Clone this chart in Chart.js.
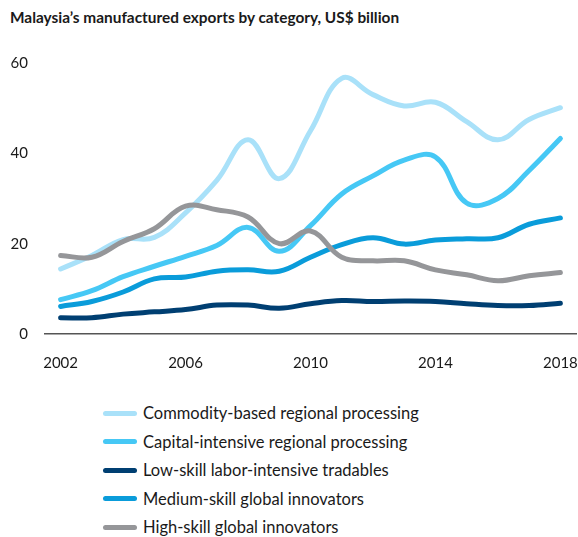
<!DOCTYPE html>
<html>
<head>
<meta charset="utf-8">
<script src="https://cdn.jsdelivr.net/npm/chart.js@4/dist/chart.umd.min.js"></script>
<style>
  html, body { margin: 0; padding: 0; background: #fff; overflow: hidden; }
  #wrap { position: relative; width: 578px; height: 537px; font-family: Lato, 'Open Sans', sans-serif; color: #1a1a1a; }
  #title { position: absolute; left: 10px; top: 8px; font-size: 15.4px; font-weight: 700; white-space: nowrap; }
  #chartBox { position: absolute; left: 0; top: 0; width: 578px; height: 392px; }
  #legend { position: absolute; left: 103px; top: 399px; }
  .leg-item { display: flex; align-items: center; height: 28.5px; font-size: 16.5px; }
  .leg-swatch { width: 34px; height: 5px; border-radius: 3px; margin-right: 6px; }
</style>
</head>
<body>
<div id="wrap">
  <div id="title">Malaysia’s manufactured exports by category, US$ billion</div>
  <div id="chartBox"><canvas id="chart"></canvas></div>
  <div id="legend"></div>
</div>
<script>
/* ── DATA ── */
var years = ['2002', '2003', '2004', '2005', '2006', '2007', '2008', '2009', '2010',
             '2011', '2012', '2013', '2014', '2015', '2016', '2017', '2018'];
var yTicks = [0, 20, 40, 60];

var commodityBased  = [14.4, 17.4, 20.9, 21.4, 26.8, 34.0, 43.0, 34.4, 45.0, 56.6, 53.0, 50.5, 51.3, 47.0, 43.0, 47.5, 50.1];
var capitalIntense  = [7.6, 9.6, 12.7, 15.0, 17.2, 19.6, 23.6, 18.3, 24.0, 31.0, 35.0, 38.5, 39.2, 29.0, 30.0, 36.2, 43.3];
var lowSkill        = [3.6, 3.6, 4.4, 4.9, 5.4, 6.4, 6.4, 5.7, 6.7, 7.4, 7.2, 7.3, 7.2, 6.7, 6.3, 6.3, 6.8];
var mediumSkill     = [6.1, 7.2, 9.3, 12.2, 12.6, 13.9, 14.2, 13.9, 17.0, 19.8, 21.3, 19.9, 20.8, 21.1, 21.3, 24.3, 25.7];
var highSkill       = [17.4, 17.0, 20.5, 23.3, 28.3, 27.5, 25.9, 20.0, 22.8, 17.0, 16.2, 16.2, 14.2, 13.1, 11.8, 12.9, 13.6];

var seriesLabels = [
  'Commodity-based regional processing',
  'Capital-intensive regional processing',
  'Low-skill labor-intensive tradables',
  'Medium-skill global innovators',
  'High-skill global innovators'
];
var seriesValues = [commodityBased, capitalIntense, lowSkill, mediumSkill, highSkill];
var seriesColors = ['#a9e1f9', '#46c8f5', '#003f72', '#0a9cda', '#959699'];
var drawOrder    = [4, 3, 2, 1, 0];   // grey line drawn on top

/* ── CHART ── */
var FONT = 'Lato, "Open Sans", sans-serif';

var datasets = [];
for (var i = 0; i < seriesValues.length; i++) {
  datasets.push({
    label: seriesLabels[i],
    data: seriesValues[i],
    borderColor: seriesColors[i],
    backgroundColor: seriesColors[i],
    borderWidth: 5,
    borderCapStyle: 'round',
    borderJoinStyle: 'round',
    tension: 0.4,
    pointRadius: 0,
    order: drawOrder[i],
    fill: false
  });
}

var chart = new Chart(document.getElementById('chart').getContext('2d'), {
  type: 'line',
  data: { labels: years, datasets: datasets },
  options: {
    responsive: true,
    maintainAspectRatio: false,
    animation: false,
    layout: { padding: { top: 63, left: 0, right: 0, bottom: 0 } },
    plugins: { legend: { display: false }, tooltip: { enabled: false } },
    scales: {
      x: {
        type: 'category',
        offset: true,
        grid: { display: false, drawTicks: false },
        border: { display: true, color: '#555', width: 1.5 },
        ticks: {
          autoSkip: false,
          maxRotation: 0,
          padding: 20,
          color: '#1a1a1a',
          font: { family: FONT, size: 15 },
          callback: function(v, idx) { return idx % 4 === 0 ? years[idx] : ''; }
        },
        afterFit: function(scale) { scale.paddingRight = 2; scale.paddingLeft = 0; }
      },
      y: {
        min: 0, max: 60,
        grid: { display: false, drawTicks: false },
        border: { display: false },
        afterBuildTicks: function(scale) {
          scale.ticks = yTicks.map(function(v) { return { value: v }; });
        },
        afterFit: function(scale) { scale.width = 45; },
        ticks: {
          padding: 17,
          color: '#1a1a1a',
          font: { family: FONT, size: 15 }
        }
      }
    }
  }
});

/* ── LEGEND ── */
var legendHtml = '';
for (var j = 0; j < seriesLabels.length; j++) {
  legendHtml += '<div class="leg-item">' +
                  '<div class="leg-swatch" style="background:' + seriesColors[j] + '"></div>' +
                  '<span>' + seriesLabels[j] + '</span>' +
                '</div>';
}
document.getElementById('legend').innerHTML = legendHtml;
</script>
</body>
</html>
